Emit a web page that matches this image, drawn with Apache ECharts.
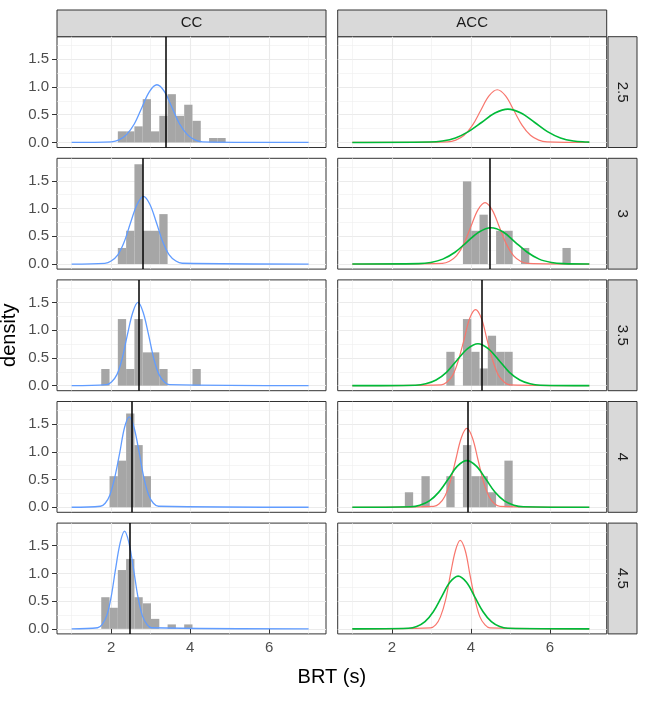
<!DOCTYPE html>
<html>
<head>
<meta charset="utf-8">
<script src="https://cdn.jsdelivr.net/npm/echarts@6/dist/echarts.min.js"></script>
<style>html,body{margin:0;padding:0;background:#fff}#container{width:645px;height:723px}</style>
</head>
<body>
<div id="container"></div>
<script>
var rowLabels = ['2.5', '3', '3.5', '4', '4.5'];
var colLabels = ['CC', 'ACC'];

// histogram densities, one value per bin (bins 0.21 wide)
var binWidth = 0.21;
var ccBinStart = 1.75;
var accBinStart = 2.33;
var ccHist = [
  [0, 0, 0.20, 0.20, 0.29, 0.78, 0.20, 0.48, 0.87, 0.48, 0.68, 0.39, 0, 0.08, 0.08],
  [0, 0, 0.29, 0.60, 1.80, 0.60, 0.60, 0.90],
  [0.30, 0, 1.20, 0.30, 1.20, 0.60, 0.60, 0.30, 0, 0, 0, 0.30],
  [0, 0.56, 0.84, 1.69, 1.12, 0.56],
  [0.57, 0.38, 1.06, 1.26, 0.57, 0.46, 0.18, 0, 0.08, 0, 0.08]
];
var accHist = [
  [],
  [0, 0, 0, 0, 0, 0, 0, 1.49, 0.60, 0.89, 0, 0.60, 0.60, 0, 0.29, 0, 0, 0, 0, 0.29],
  [0, 0, 0, 0, 0, 0.61, 0, 1.20, 0.61, 0.31, 0.90, 0.61, 0.61],
  [0.27, 0, 0.56, 0, 0, 0.56, 0, 1.12, 0.56, 0.56, 0.27, 0, 0.84],
  []
];

// vertical reference lines
var ccMean = [3.39, 2.80, 2.69, 2.51, 2.46];
var accMean = [null, 4.49, 4.28, 3.93, null];

// density curves
var ccCurve = [
  [[1,0],[2.01,0.012],[2.20,0.046],[2.39,0.141],[2.59,0.338],[2.78,0.631],[2.97,0.918],[3.16,1.04],[3.35,0.918],[3.54,0.631],[3.73,0.338],[3.93,0.141],[4.12,0.046],[4.31,0.012],[7,0]],
  [[1,0],[1.84,0.014],[2.00,0.054],[2.17,0.165],[2.33,0.396],[2.49,0.740],[2.66,1.077],[2.82,1.22],[2.98,1.077],[3.15,0.740],[3.31,0.396],[3.47,0.165],[3.64,0.054],[3.80,0.014],[7,0]],
  [[1,0],[1.88,0.017],[2.01,0.066],[2.15,0.203],[2.28,0.487],[2.41,0.910],[2.55,1.324],[2.68,1.50],[2.81,1.324],[2.95,0.910],[3.08,0.487],[3.21,0.203],[3.35,0.066],[3.48,0.017],[7,0]],
  [[1,0],[1.73,0.018],[1.85,0.072],[1.97,0.221],[2.09,0.529],[2.22,0.989],[2.34,1.438],[2.46,1.63],[2.58,1.438],[2.71,0.989],[2.83,0.529],[2.95,0.221],[3.07,0.072],[3.20,0.018],[7,0]],
  [[1,0],[1.66,0.020],[1.77,0.077],[1.89,0.238],[2.00,0.571],[2.11,1.067],[2.23,1.553],[2.34,1.76],[2.45,1.553],[2.57,1.067],[2.68,0.571],[2.79,0.238],[2.91,0.077],[3.02,0.020],[7,0]]
];
var accRedCurve = [
  [[1,0],[3.41,0.011],[3.62,0.042],[3.83,0.129],[4.04,0.308],[4.25,0.576],[4.46,0.838],[4.67,0.95],[4.88,0.838],[5.09,0.576],[5.30,0.308],[5.51,0.129],[5.72,0.042],[5.93,0.011],[7,0]],
  [[1,0],[3.28,0.012],[3.46,0.049],[3.64,0.150],[3.82,0.359],[4.00,0.671],[4.18,0.977],[4.36,1.107],[4.54,0.977],[4.72,0.671],[4.90,0.359],[5.08,0.150],[5.26,0.049],[5.44,0.012],[7,0]],
  [[1,0],[3.25,0.015],[3.39,0.060],[3.54,0.185],[3.68,0.445],[3.83,0.831],[3.97,1.209],[4.12,1.37],[4.27,1.209],[4.41,0.831],[4.56,0.445],[4.70,0.185],[4.85,0.060],[4.99,0.015],[7,0]],
  [[1,0],[3.06,0.016],[3.20,0.062],[3.34,0.192],[3.48,0.461],[3.62,0.861],[3.76,1.253],[3.90,1.42],[4.04,1.253],[4.18,0.861],[4.32,0.461],[4.46,0.192],[4.60,0.062],[4.74,0.016],[7,0]],
  [[1,0],[2.98,0.018],[3.11,0.070],[3.23,0.216],[3.36,0.518],[3.48,0.967],[3.61,1.408],[3.73,1.595],[3.86,1.408],[3.98,0.967],[4.11,0.518],[4.23,0.216],[4.36,0.070],[4.48,0.018],[7,0]]
];
var accGreenCurve = [
  [[1,0],[2.95,0.007],[3.28,0.026],[3.61,0.081],[3.94,0.195],[4.28,0.364],[4.61,0.530],[4.94,0.60],[5.27,0.530],[5.61,0.364],[5.94,0.195],[6.27,0.081],[6.60,0.026],[6.94,0.007],[7,0.005]],
  [[1,0],[2.68,0.007],[2.99,0.029],[3.29,0.089],[3.60,0.213],[3.90,0.397],[4.21,0.578],[4.51,0.655],[4.82,0.578],[5.12,0.397],[5.43,0.213],[5.73,0.089],[6.04,0.029],[6.34,0.007],[7,0]],
  [[1,0],[2.60,0.008],[2.86,0.033],[3.12,0.102],[3.39,0.245],[3.65,0.459],[3.92,0.667],[4.18,0.756],[4.44,0.667],[4.71,0.459],[4.97,0.245],[5.24,0.102],[5.50,0.033],[5.76,0.008],[7,0]],
  [[1,0],[2.48,0.009],[2.71,0.037],[2.95,0.114],[3.19,0.273],[3.43,0.509],[3.66,0.741],[3.90,0.84],[4.14,0.741],[4.38,0.509],[4.61,0.273],[4.85,0.114],[5.09,0.037],[5.33,0.009],[7,0]],
  [[1,0],[2.42,0.011],[2.63,0.042],[2.84,0.129],[3.05,0.308],[3.26,0.576],[3.47,0.838],[3.68,0.95],[3.89,0.838],[4.10,0.576],[4.31,0.308],[4.52,0.129],[4.73,0.042],[4.94,0.011],[7,0]]
];

var xMajor = [2, 4, 6];
var xMinor = [1, 3, 5, 7];
var yMajor = [0, 0.5, 1, 1.5];
var yMinor = [0.25, 0.75, 1.25, 1.75];

// layout
var colLeft = [57, 337.7];
var panelW = 269;
var rowTop = [36.7, 158.3, 279.9, 401.5, 523.1];
var panelH = 110.8;
var stripTop = 10;
var stripRightX = 608;
var stripRightW = 29;
var font = 'Liberation Sans, Arial, sans-serif';

function binsToData(heights, start) {
  var out = [];
  for (var k = 0; k < heights.length; k++) {
    if (heights[k] > 0) out.push([start + k * binWidth, start + (k + 1) * binWidth, heights[k]]);
  }
  return out;
}

function renderBin(params, api) {
  var a = api.coord([api.value(0), api.value(2)]);
  var b = api.coord([api.value(1), 0]);
  return {
    type: 'rect',
    shape: { x: a[0], y: a[1], width: b[0] - a[0], height: b[1] - a[1] },
    style: { fill: '#A6A6A6' }
  };
}

function vline(v) {
  return {
    silent: true, symbol: ['none', 'none'], animation: false,
    label: { show: false },
    lineStyle: { color: '#000', width: 1.5, type: 'solid' },
    data: [{ xAxis: v }]
  };
}

var grids = [], xAxes = [], yAxes = [], series = [], graphics = [];

for (var r = 0; r < 5; r++) {
  for (var c = 0; c < 2; c++) {
    var gi = grids.length;
    var bottom = r === 4, leftCol = c === 0;
    grids.push({ left: colLeft[c], top: rowTop[r], width: panelW, height: panelH, show: true,
      borderColor: '#333333', borderWidth: 1, backgroundColor: 'transparent' });

    xAxes.push({ gridIndex: gi, type: 'value', min: 0.63, max: 7.44, position: 'bottom',
      axisLine: { show: false },
      axisTick: { show: bottom, customValues: xMajor, length: 5, lineStyle: { color: '#333333' } },
      axisLabel: { show: bottom, customValues: xMajor, color: '#4D4D4D', fontSize: 15, fontFamily: font, margin: 6 },
      splitLine: { show: true, lineStyle: { color: '#EBEBEB', width: 1.1 } } });
    xAxes.push({ gridIndex: gi, type: 'value', min: 0.63, max: 7.44, position: 'top',
      axisLine: { show: false },
      axisTick: { show: false, customValues: xMinor },
      axisLabel: { show: false },
      splitLine: { show: true, lineStyle: { color: '#EEEEEE', width: 0.6 } } });

    yAxes.push({ gridIndex: gi, type: 'value', min: -0.091, max: 1.906, position: 'left',
      axisLine: { show: false },
      axisTick: { show: leftCol, customValues: yMajor, length: 5, lineStyle: { color: '#333333' } },
      axisLabel: { show: leftCol, customValues: yMajor, color: '#4D4D4D', fontSize: 15, fontFamily: font, margin: 8,
        formatter: function (v) { return v.toFixed(1); } },
      splitLine: { show: true, lineStyle: { color: '#EBEBEB', width: 1.1 } } });
    yAxes.push({ gridIndex: gi, type: 'value', min: -0.091, max: 1.906, position: 'right',
      axisLine: { show: false },
      axisTick: { show: false, customValues: yMinor },
      axisLabel: { show: false },
      splitLine: { show: true, lineStyle: { color: '#EEEEEE', width: 0.6 } } });

    var xi = gi * 2, yi = gi * 2;
    var hist = leftCol ? binsToData(ccHist[r], ccBinStart) : binsToData(accHist[r], accBinStart);
    if (hist.length) {
      series.push({ type: 'custom', xAxisIndex: xi, yAxisIndex: yi, renderItem: renderBin,
        encode: { x: [0, 1], y: 2 }, data: hist, silent: true, animation: false, z: 2 });
    }
    var lines = leftCol ? [[ccCurve[r], '#619CFF', 1.3]]
                        : [[accRedCurve[r], '#F8766D', 1.2], [accGreenCurve[r], '#00BA38', 1.6]];
    var m = leftCol ? ccMean[r] : accMean[r];
    for (var l = 0; l < lines.length; l++) {
      var s = { type: 'line', xAxisIndex: xi, yAxisIndex: yi, data: lines[l][0], smooth: 0.35,
        symbol: 'none', silent: true, animation: false, z: 3,
        lineStyle: { color: lines[l][1], width: lines[l][2] } };
      if (l === lines.length - 1 && m !== null) s.markLine = vline(m);
      series.push(s);
    }

    // right strip
    if (c === 1) {
      graphics.push({ type: 'rect', shape: { x: stripRightX, y: rowTop[r], width: stripRightW, height: panelH },
        style: { fill: '#D9D9D9', stroke: '#333333', lineWidth: 1 } });
      graphics.push({ type: 'text', x: stripRightX + stripRightW / 2, y: rowTop[r] + panelH / 2, rotation: -Math.PI / 2,
        style: { text: rowLabels[r], fill: '#1A1A1A', font: '15px ' + font, align: 'center', verticalAlign: 'middle' } });
    }
  }
}

for (var c2 = 0; c2 < 2; c2++) {
  graphics.push({ type: 'rect', shape: { x: colLeft[c2], y: stripTop, width: panelW, height: rowTop[0] - stripTop },
    style: { fill: '#D9D9D9', stroke: '#333333', lineWidth: 1 } });
  graphics.push({ type: 'text', x: colLeft[c2] + panelW / 2, y: (stripTop + rowTop[0]) / 2,
    style: { text: colLabels[c2], fill: '#1A1A1A', font: '15px ' + font, align: 'center', verticalAlign: 'middle' } });
}
graphics.push({ type: 'text', x: 9, y: rowTop[0] + (rowTop[4] + panelH - rowTop[0]) / 2, rotation: Math.PI / 2,
  style: { text: 'density', fill: '#000', font: '20px ' + font, align: 'center', verticalAlign: 'middle' } });
graphics.push({ type: 'text', x: colLeft[0] + (colLeft[1] + panelW - colLeft[0]) / 2, y: 677,
  style: { text: 'BRT (s)', fill: '#000', font: '20px ' + font, align: 'center', verticalAlign: 'middle' } });

var myChart = echarts.init(document.getElementById('container'));
var option = {
  animation: false,
  backgroundColor: '#fff',
  grid: grids,
  xAxis: xAxes,
  yAxis: yAxes,
  series: series,
  graphic: graphics
};
myChart.setOption(option, true);
</script>
</body>
</html>
